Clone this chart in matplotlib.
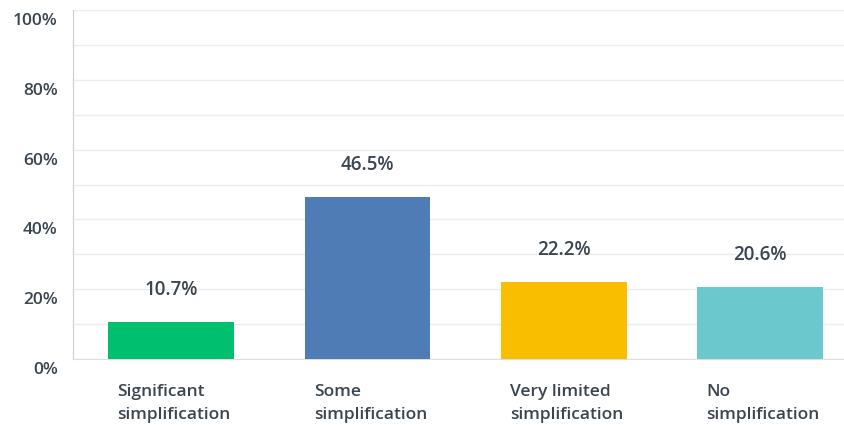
import matplotlib.pyplot as plt
from matplotlib.ticker import MultipleLocator
import matplotlib.transforms as mtransforms

plt.rcParams['font.family'] = ['Open Sans', 'DejaVu Sans']
plt.rcParams['font.weight'] = 'semibold'

categories = ["Significant\nsimplification", "Some\nsimplification",
              "Very limited\nsimplification", "No\nsimplification"]
percentages = [10.7, 46.5, 22.2, 20.6]
bar_colors = ["#00bf6f", "#507cb6", "#f9be00", "#6bc8cd"]
y_ticks = [0, 20, 40, 60, 80, 100]

text_color = "#3b4550"

fig = plt.figure(figsize=(8.45, 4.25), dpi=100)
ax = fig.add_axes([73 / 845, 66 / 425, 772 / 845, 349 / 425])

x = range(len(categories))
bar_width = 0.64
ax.bar(x, percentages, width=bar_width, color=bar_colors, zorder=3)

for xi, val in zip(x, percentages):
    ax.annotate(f"{val}%", (xi, val), xytext=(0, 23), textcoords="offset points",
                ha="center", va="center", fontsize=13.5, color=text_color, zorder=4)

ax.set_xlim(-0.5, 3.433)
ax.set_ylim(0, 100)
ax.yaxis.set_minor_locator(MultipleLocator(10))
ax.set_yticks(y_ticks)
ax.set_yticklabels([f"{t}%" for t in y_ticks], fontsize=12.5, color=text_color)
ax.grid(axis="y", which="both", color="#ececec", linewidth=1, zorder=0)
ax.tick_params(axis="y", which="both", length=0, pad=11)

# shift y tick labels slightly below their gridlines
offset = mtransforms.ScaledTranslation(0, -9 / 100, fig.dpi_scale_trans)
for lbl in ax.get_yticklabels():
    lbl.set_transform(lbl.get_transform() + offset)

# category labels, left-aligned under each bar
ax.set_xticks([])
for xi, cat in zip(x, categories):
    ax.annotate(cat, (xi - bar_width / 2, 0), xytext=(6.5, -18), textcoords="offset points",
                ha="left", va="top", fontsize=12.5, color=text_color,
                linespacing=1.6, annotation_clip=False)

for side in ["top", "right"]:
    ax.spines[side].set_visible(False)
ax.spines["left"].set_color("#cccccc")
ax.spines["bottom"].set_color("#dddddd")

fig.savefig("out.png", dpi=100)
